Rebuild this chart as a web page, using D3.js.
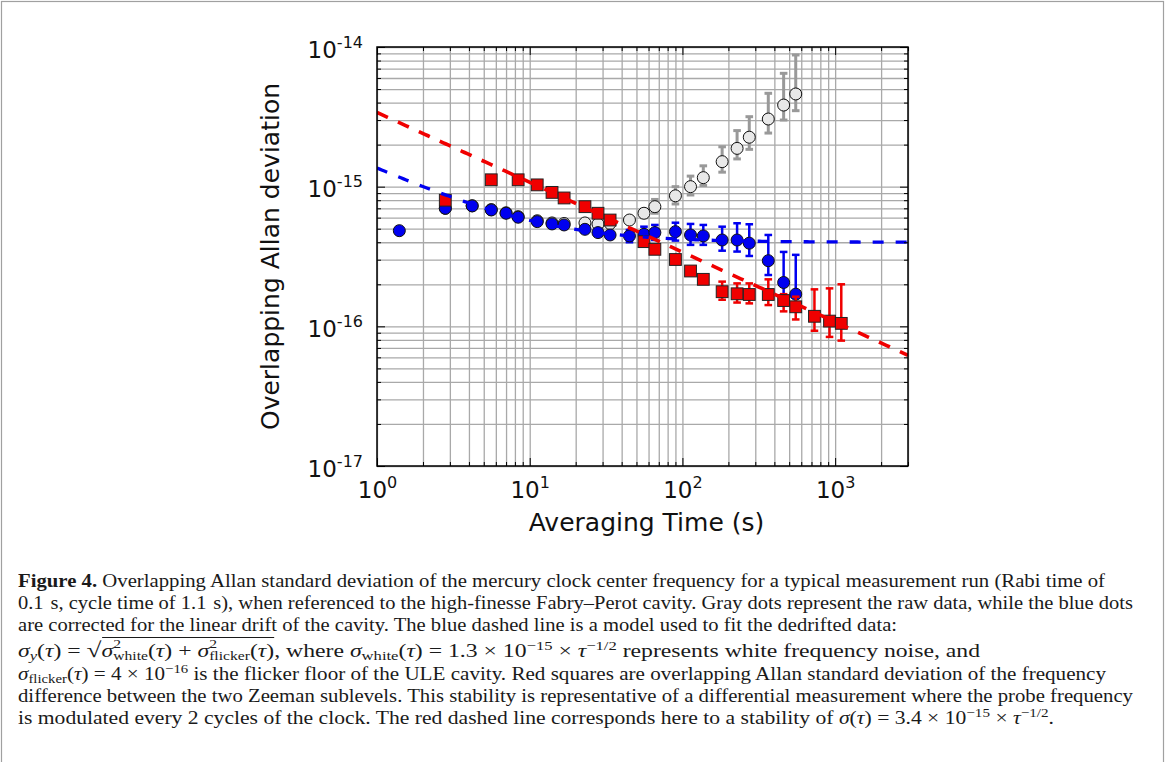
<!DOCTYPE html>
<html>
<head>
    <meta charset="utf-8">
    <script src="https://cdn.jsdelivr.net/npm/d3@7"></script>
    <style>
        body { margin: 0; background: #fff; }
        #fig { position: relative; width: 1168px; height: 762px; overflow: hidden; }
        #fig svg { position: absolute; left: 0; top: 0; }
        .grid line { stroke: #a9a9a9; stroke-width: 1.3px; }
        .grid path, .ticks path { display: none; }
        .ticks line { stroke: #000; stroke-width: 1px; }
        .ticks text, .title { font-family: "DejaVu Sans", sans-serif; fill: #111; }
        .cap { position: absolute; left: 18px; font-family: "Liberation Serif", serif; font-size: 18.6px;
               line-height: 21px; color: #1a1a1a; white-space: nowrap; transform-origin: 0 0; }
        .cap sub, .cap sup { font-size: 0.7em; line-height: 0; }
        .cap sub { vertical-align: -0.2em; }
        .ss { display: inline-block; vertical-align: -0.22em; font-size: 0.66em; line-height: 0.98; }
        .ss span { display: block; }
        .root { font-size: 1.15em; line-height: 0; }
        .rad { border-top: 1px solid #1a1a1a; padding-top: 2px; }
    </style>
</head>
<body>
<div id="fig"></div>
<script>

    // averaging time (s) and Allan deviation
    var blueTau = [1.4, 2.8, 4.2, 5.6, 7.0, 8.4, 11.2, 14.0, 16.8, 23, 28, 33.6, 45, 56, 66, 90, 113, 137, 182, 228, 274, 365, 460, 552];
    var blueSigma = [4.84e-16, 7.0e-16, 7.28e-16, 6.81e-16, 6.45e-16, 6.04e-16, 5.62e-16, 5.41e-16, 5.32e-16, 4.95e-16, 4.69e-16, 4.51e-16,
        4.44e-16, 4.56e-16, 4.69e-16, 4.76e-16, 4.51e-16, 4.44e-16, 4.15e-16, 4.15e-16, 3.94e-16, 2.95e-16, 2.06e-16, 1.70e-16];
    var blueLo = [null, null, null, null, null, null, null, null, null, null, null, null,
        4.0e-16, 4.02e-16, 4.15e-16, 4.11e-16, 3.83e-16, 3.83e-16, 3.48e-16, 3.43e-16, 3.19e-16, 2.33e-16, 1.50e-16, 1.47e-16];
    var blueHi = [null, null, null, null, null, null, null, null, null, null, null, null,
        4.9e-16, 5.17e-16, 5.32e-16, 5.52e-16, 5.41e-16, 5.32e-16, 5.17e-16, 5.47e-16, 5.38e-16, 4.51e-16, 3.41e-16, 3.25e-16];

    var grayTau = [2.8, 4.2, 5.6, 7.0, 8.4, 11.2, 14.0, 16.8, 23, 28, 33.6, 45, 56, 66, 90, 113, 137, 182, 228, 274, 365, 460, 552];
    var graySigma = [7.0e-16, 7.3e-16, 6.85e-16, 6.5e-16, 6.1e-16, 5.7e-16, 5.5e-16, 5.45e-16, 5.5e-16, 5.4e-16, 5.45e-16, 5.77e-16,
        6.45e-16, 7.19e-16, 8.6e-16, 1.0e-15, 1.16e-15, 1.51e-15, 1.88e-15, 2.26e-15, 3.05e-15, 3.84e-15, 4.61e-15];
    var grayLo = [null, null, null, null, null, null, null, null, null, null, null, null,
        6.0e-16, 6.45e-16, 7.52e-16, 8.72e-16, 1.02e-15, 1.27e-15, 1.58e-15, 1.85e-15, 2.42e-15, 3.0e-15, 3.5e-15];
    var grayHi = [null, null, null, null, null, null, null, null, null, null, null, null,
        6.9e-16, 8.1e-16, 1.0e-15, 1.19e-15, 1.41e-15, 1.93e-15, 2.52e-15, 3.17e-15, 4.66e-15, 6.48e-15, 8.77e-15];

    var redTau = [2.8, 5.6, 8.4, 11.2, 14.0, 16.8, 23, 28, 33.6, 56, 66, 90, 113, 137, 182, 228, 274, 365, 460, 552, 732, 919, 1097];
    var redSigma = [8.0e-16, 1.12e-15, 1.12e-15, 1.03e-15, 9.1e-16, 8.3e-16, 7.19e-16, 6.45e-16, 5.77e-16, 4.04e-16, 3.56e-16, 3.01e-16,
        2.49e-16, 2.17e-16, 1.77e-16, 1.71e-16, 1.69e-16, 1.69e-16, 1.53e-16, 1.38e-16, 1.18e-16, 1.09e-16, 1.05e-16];
    var redLo = [null, null, null, null, null, null, null, null, null, null, null, null, null, null,
        1.55e-16, 1.48e-16, 1.46e-16, 1.42e-16, 1.28e-16, 1.12e-16, 9.3e-17, 8.4e-17, 7.9e-17];
    var redHi = [null, null, null, null, null, null, null, null, null, null, null, null, null, null,
        2.09e-16, 2.03e-16, 2.03e-16, 2.17e-16, 1.70e-16, 1.63e-16, 1.84e-16, 1.87e-16, 2.0e-16];

    // model parameters from the caption
    var whiteCoef = 1.3e-15;
    var flickerFloor = 4e-16;
    var redCoef = 3.4e-15;

    var xDomain = [1, 3000];
    var yDomain = [1e-17, 1e-14];

    var captionLines = [
        '<b>Figure 4.</b> Overlapping Allan standard deviation of the mercury clock center frequency for a typical measurement run (Rabi time of',
        '0.1&#8196;s, cycle time of 1.1&#8196;s), when referenced to the high-finesse Fabry–Perot cavity. Gray dots represent the raw data, while the blue dots',
        'are corrected for the linear drift of the cavity. The blue dashed line is a model used to fit the dedrifted data:',
        '<i>σ<sub>y</sub></i>(<i>τ</i>) = <span class="root">√</span><span class="rad"><i>σ</i><span class="ss"><span>2</span><span>white</span></span>(<i>τ</i>) + <i>σ</i><span class="ss"><span>2</span><span>flicker</span></span>(<i>τ</i>)</span>, where <i>σ</i><sub>white</sub>(<i>τ</i>) = 1.3 × 10<sup>−15</sup> × <i>τ</i><sup>−1/2</sup> represents white frequency noise, and',
        '<i>σ</i><sub>flicker</sub>(<i>τ</i>) = 4 × 10<sup>−16</sup> is the flicker floor of the ULE cavity. Red squares are overlapping Allan standard deviation of the frequency',
        'difference between the two Zeeman sublevels. This stability is representative of a differential measurement where the probe frequency',
        'is modulated every 2 cycles of the clock. The red dashed line corresponds here to a stability of <i>σ</i>(<i>τ</i>) = 3.4 × 10<sup>−15</sup> × <i>τ</i><sup>−1/2</sup>.'
    ];
    var captionBase = [587, 609, 631, 655, 680, 702, 724];
    var captionRight = [1105, 1133, 897, 980, 1106, 1133, 1054];

    var W = 1168, H = 762;
    var plot = {left: 377, right: 908, top: 47, bottom: 466};

    var svg = d3.select("#fig").append("svg").attr("width", W).attr("height", H);

    svg.append("rect").attr("x", 1.5).attr("y", 1.5).attr("width", 1162).attr("height", 800)
        .attr("fill", "none").attr("stroke", "#a0a0a0").attr("stroke-width", 1.2);

    svg.append("clipPath").attr("id", "clip").append("rect")
        .attr("x", plot.left).attr("y", plot.top)
        .attr("width", plot.right - plot.left).attr("height", plot.bottom - plot.top);

    var x = d3.scaleLog().domain(xDomain).range([plot.left, plot.right]);
    var y = d3.scaleLog().domain(yDomain).range([plot.bottom, plot.top]);

    var xTicks = x.ticks();
    var yTicks = y.ticks();

    function isMajor(v) {
        var l = Math.log10(v);
        return Math.abs(l - Math.round(l)) < 1e-6;
    }

    // grid on every major and minor tick
    svg.append("g").attr("class", "grid")
        .attr("transform", "translate(0," + plot.bottom + ")")
        .call(d3.axisBottom(x).tickValues(xTicks).tickSize(-(plot.bottom - plot.top)).tickFormat(""));
    svg.append("g").attr("class", "grid")
        .attr("transform", "translate(" + plot.left + ",0)")
        .call(d3.axisLeft(y).tickValues(yTicks).tickSize(-(plot.right - plot.left)).tickFormat(""));

    function drawErrors(tau, lo, hi, color, width) {
        var idx = d3.range(tau.length).filter(function (i) { return lo[i] != null; });
        var g = svg.append("g").attr("stroke", color).attr("stroke-width", width);
        g.selectAll(null).data(idx).enter().append("line")
            .attr("x1", function (i) { return x(tau[i]); })
            .attr("x2", function (i) { return x(tau[i]); })
            .attr("y1", function (i) { return y(lo[i]); })
            .attr("y2", function (i) { return y(hi[i]); });
        [lo, hi].forEach(function (arr) {
            g.selectAll(null).data(idx).enter().append("line")
                .attr("x1", function (i) { return x(tau[i]) - 3.8; })
                .attr("x2", function (i) { return x(tau[i]) + 3.8; })
                .attr("y1", function (i) { return y(arr[i]); })
                .attr("y2", function (i) { return y(arr[i]); });
        });
    }

    function drawCircles(tau, sig, fill) {
        svg.append("g").selectAll("circle").data(d3.range(tau.length)).enter().append("circle")
            .attr("cx", function (i) { return x(tau[i]); })
            .attr("cy", function (i) { return y(sig[i]); })
            .attr("r", 6)
            .attr("fill", fill).attr("stroke", "#111").attr("stroke-width", 1);
    }

    function drawSquares(tau, sig, fill) {
        var s = 11.8;
        svg.append("g").selectAll("rect").data(d3.range(tau.length)).enter().append("rect")
            .attr("x", function (i) { return x(tau[i]) - s / 2; })
            .attr("y", function (i) { return y(sig[i]) - s / 2; })
            .attr("width", s).attr("height", s)
            .attr("fill", fill).attr("stroke", "#222").attr("stroke-width", 1);
    }

    drawErrors(grayTau, grayLo, grayHi, "#999", 3);
    drawCircles(grayTau, graySigma, "#e8e8e8");
    drawErrors(blueTau, blueLo, blueHi, "#0000f0", 2.5);
    drawCircles(blueTau, blueSigma, "#0000f0");
    drawErrors(redTau, redLo, redHi, "#f00000", 2.5);
    drawSquares(redTau, redSigma, "#f00000");

    // model curves
    var tauModel = d3.range(0, 201).map(function (i) {
        return Math.pow(10, Math.log10(xDomain[0]) + i * (Math.log10(xDomain[1]) - Math.log10(xDomain[0])) / 200);
    });
    var line = d3.line().x(function (d) { return x(d[0]); }).y(function (d) { return y(d[1]); });

    var models = svg.append("g").attr("clip-path", "url(#clip)");
    models.append("path")
        .attr("d", line(tauModel.map(function (t) {
            return [t, Math.sqrt(whiteCoef * whiteCoef / t + flickerFloor * flickerFloor)];
        })))
        .attr("fill", "none").attr("stroke", "#0000f0").attr("stroke-width", 3.3)
        .attr("stroke-dasharray", "11,12");
    models.append("path")
        .attr("d", line(tauModel.map(function (t) { return [t, redCoef / Math.sqrt(t)]; })))
        .attr("fill", "none").attr("stroke", "#f00000").attr("stroke-width", 3.6)
        .attr("stroke-dasharray", "12,11");

    // inward ticks on all four sides
    function tickAxis(axis, tr, values) {
        var g = svg.append("g").attr("class", "ticks").attr("transform", tr)
            .call(axis.tickValues(values).tickSizeInner(-4).tickSizeOuter(0).tickFormat(""));
        g.selectAll(".tick line").filter(isMajor).each(function () {
            var l = d3.select(this);
            ["x2", "y2"].forEach(function (a) {
                var v = +l.attr(a);
                if (v) l.attr(a, v * 2);
            });
        });
        return g;
    }

    function powLabel(text, d) {
        text.append("tspan").text("10");
        text.append("tspan").attr("dy", -10).attr("font-size", 16).text(Math.round(Math.log10(d)));
    }

    var bottomAxis = tickAxis(d3.axisBottom(x), "translate(0," + plot.bottom + ")", xTicks);
    tickAxis(d3.axisTop(x), "translate(0," + plot.top + ")", xTicks);
    var leftAxis = tickAxis(d3.axisLeft(y), "translate(" + plot.left + ",0)", yTicks);
    tickAxis(d3.axisRight(y), "translate(" + plot.right + ",0)", yTicks);

    bottomAxis.selectAll(".tick").filter(isMajor).append("text")
        .attr("y", 32).attr("text-anchor", "middle").attr("font-size", 23)
        .each(function (d) { powLabel(d3.select(this), d); });
    leftAxis.selectAll(".tick").filter(isMajor).append("text")
        .attr("x", -14).attr("y", 10).attr("text-anchor", "end").attr("font-size", 23)
        .each(function (d) { powLabel(d3.select(this), d); });

    svg.append("rect").attr("x", plot.left).attr("y", plot.top)
        .attr("width", plot.right - plot.left).attr("height", plot.bottom - plot.top)
        .attr("fill", "none").attr("stroke", "#000").attr("stroke-width", 1.5);

    svg.append("text").attr("class", "title")
        .attr("x", (plot.left + plot.right) / 2 + 4).attr("y", 531)
        .attr("text-anchor", "middle").attr("font-size", 25)
        .text("Averaging Time (s)");
    svg.append("text").attr("class", "title")
        .attr("transform", "translate(279," + (plot.top + plot.bottom) / 2 + ") rotate(-90)")
        .attr("text-anchor", "middle").attr("font-size", 25)
        .text("Overlapping Allan deviation");

    // caption, each line squeezed to the width it has in the figure
    var fig = d3.select("#fig");
    captionLines.forEach(function (html, i) {
        var div = fig.append("div").attr("class", "cap")
            .style("top", (captionBase[i] - 17) + "px")
            .style("display", "inline-block")
            .html(html);
        var w = div.node().getBoundingClientRect().width;
        div.style("transform", "scaleX(" + ((captionRight[i] - 18) / w) + ")");
    });

</script>
</body>
</html>
